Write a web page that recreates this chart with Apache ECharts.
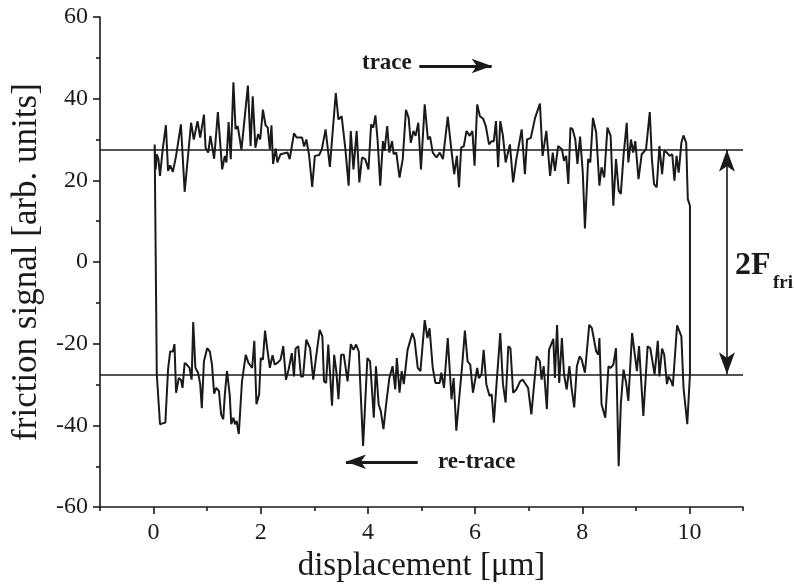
<!DOCTYPE html>
<html>
<head>
<meta charset="utf-8">
<script src="https://cdn.jsdelivr.net/npm/echarts@6/dist/echarts.min.js"></script>
<style>
  html, body { margin: 0; padding: 0; background: #fff; }
  #chart { width: 794px; height: 588px; }
</style>
</head>
<body>
<div id="chart"></div>
<script>
// Friction loop: forward scan (trace) and backward scan (re-trace)
const traceX = [0.02, 0.04, 0.06, 0.09, 0.12, 0.17, 0.23, 0.27, 0.31, 0.36, 0.42, 0.51, 0.58, 0.70, 0.75, 0.82, 0.87, 0.94, 0.97, 1.02,
  1.06, 1.09, 1.13, 1.20, 1.28, 1.33, 1.36, 1.40, 1.44, 1.49, 1.53, 1.57, 1.64, 1.76, 1.81, 1.85, 1.90, 1.95, 1.99, 2.04,
  2.09, 2.13, 2.17, 2.20, 2.23, 2.28, 2.31, 2.37, 2.50, 2.54, 2.62, 2.67, 2.77, 2.81, 2.85, 2.90, 2.96, 3.01, 3.09, 3.14,
  3.21, 3.29, 3.40, 3.45, 3.51, 3.58, 3.64, 3.68, 3.73, 3.79, 3.84, 3.89, 3.95, 4.01, 4.06, 4.10, 4.14, 4.18, 4.23, 4.28,
  4.31, 4.36, 4.40, 4.45, 4.48, 4.53, 4.59, 4.65, 4.71, 4.76, 4.80, 4.85, 4.89, 4.94, 4.99, 5.06, 5.12, 5.16, 5.21, 5.28,
  5.34, 5.40, 5.49, 5.56, 5.61, 5.66, 5.70, 5.74, 5.79, 5.84, 5.90, 5.95, 5.99, 6.04, 6.09, 6.15, 6.20, 6.26, 6.31, 6.35,
  6.39, 6.43, 6.47, 6.52, 6.57, 6.65, 6.71, 6.77, 6.87, 6.93, 6.97, 7.04, 7.12, 7.21, 7.26, 7.33, 7.40, 7.45, 7.49, 7.55,
  7.62, 7.66, 7.70, 7.74, 7.78, 7.82, 7.87, 7.91, 7.96, 8.01, 8.05, 8.11, 8.15, 8.20, 8.26, 8.32, 8.36, 8.41, 8.47, 8.53,
  8.58, 8.63, 8.68, 8.72, 8.77, 8.83, 8.86, 8.91, 8.95, 8.99, 9.05, 9.11, 9.19, 9.26, 9.30, 9.34, 9.39, 9.44, 9.49, 9.53,
  9.58, 9.63, 9.68, 9.72, 9.76, 9.80, 9.85, 9.89, 9.94, 9.97, 10.01];
const traceY = [28.8, 22.7, 26.4, 25.2, 21.1, 27.6, 33.5, 22.3, 23.7, 22.1, 26.0, 33.7, 17.2, 34.1, 30.0, 34.5, 30.5, 36.1, 28.0, 26.8,
  30.9, 30.5, 25.3, 36.7, 22.7, 26.0, 24.4, 34.3, 25.2, 44.0, 32.5, 33.3, 27.5, 43.2, 28.4, 40.6, 28.0, 31.3, 30.0, 37.3,
  33.5, 32.9, 27.6, 33.5, 24.0, 27.8, 24.4, 26.4, 26.8, 25.2, 31.5, 30.5, 30.5, 28.3, 30.0, 26.4, 18.4, 26.0, 26.2, 27.6,
  32.5, 23.3, 41.4, 34.9, 35.7, 27.6, 18.7, 32.1, 22.7, 32.1, 19.5, 25.6, 25.2, 22.7, 33.7, 32.9, 35.9, 30.0, 18.7, 29.6,
  27.2, 33.3, 26.8, 29.6, 26.4, 26.8, 20.7, 25.2, 37.3, 35.3, 29.2, 32.1, 30.9, 34.1, 22.7, 38.6, 30.0, 30.7, 26.8, 25.6,
  26.8, 25.2, 35.6, 27.2, 21.5, 26.0, 18.3, 28.0, 28.4, 32.1, 30.9, 32.1, 23.6, 38.6, 35.7, 35.1, 33.3, 28.8, 29.6, 29.6,
  34.5, 23.2, 34.5, 30.9, 24.4, 28.8, 19.5, 25.2, 32.5, 21.5, 30.0, 30.4, 35.3, 38.8, 26.0, 32.1, 21.1, 26.8, 22.3, 28.4,
  27.6, 24.8, 26.0, 19.1, 32.9, 32.5, 30.0, 24.0, 30.7, 21.9, 8.2, 25.2, 24.4, 35.3, 31.7, 18.7, 23.2, 20.7, 32.9, 30.9,
  13.8, 25.2, 17.5, 16.7, 26.0, 34.1, 24.4, 30.0, 26.8, 29.6, 20.3, 26.4, 27.6, 36.7, 25.2, 19.1, 18.3, 28.4, 21.5, 27.2,
  26.8, 26.0, 26.4, 19.9, 26.0, 21.9, 29.2, 31.0, 29.2, 15.4, 13.8];

// re-trace values listed with increasing displacement; the scan runs from right to left
const retraceX = [0.03, 0.06, 0.12, 0.17, 0.22, 0.27, 0.31, 0.36, 0.39, 0.42, 0.47, 0.51, 0.54, 0.58, 0.62, 0.67, 0.71, 0.74, 0.78, 0.83,
  0.87, 0.90, 0.94, 1.00, 1.05, 1.09, 1.13, 1.17, 1.22, 1.26, 1.30, 1.33, 1.37, 1.42, 1.45, 1.49, 1.52, 1.55, 1.59, 1.65,
  1.72, 1.77, 1.81, 1.84, 1.88, 1.92, 1.97, 2.00, 2.04, 2.08, 2.12, 2.17, 2.22, 2.26, 2.31, 2.37, 2.42, 2.47, 2.52, 2.58,
  2.62, 2.65, 2.70, 2.75, 2.79, 2.85, 2.92, 2.98, 3.03, 3.10, 3.15, 3.18, 3.22, 3.26, 3.33, 3.37, 3.41, 3.45, 3.50, 3.55,
  3.59, 3.62, 3.68, 3.73, 3.78, 3.83, 3.91, 3.99, 4.04, 4.11, 4.15, 4.20, 4.24, 4.29, 4.34, 4.40, 4.46, 4.51, 4.54, 4.59,
  4.63, 4.67, 4.74, 4.83, 4.87, 4.93, 4.98, 5.06, 5.11, 5.15, 5.21, 5.26, 5.34, 5.37, 5.42, 5.49, 5.56, 5.60, 5.65, 5.71,
  5.76, 5.81, 5.86, 5.91, 5.96, 6.04, 6.07, 6.12, 6.16, 6.21, 6.27, 6.31, 6.35, 6.40, 6.47, 6.52, 6.57, 6.62, 6.66, 6.71,
  6.77, 6.84, 6.89, 6.93, 6.99, 7.05, 7.15, 7.21, 7.24, 7.28, 7.34, 7.38, 7.46, 7.49, 7.53, 7.57, 7.62, 7.66, 7.71, 7.76,
  7.80, 7.85, 7.90, 7.95, 7.99, 8.05, 8.13, 8.18, 8.26, 8.30, 8.32, 8.36, 8.43, 8.49, 8.53, 8.58, 8.63, 8.68, 8.72, 8.77,
  8.82, 8.86, 8.93, 9.02, 9.06, 9.14, 9.22, 9.27, 9.35, 9.41, 9.44, 9.49, 9.53, 9.58, 9.61, 9.66, 9.69, 9.77, 9.85, 9.89,
  9.96, 10.01];
const retraceY = [-27.1, -27.5, -39.7, -39.5, -39.3, -26.3, -21.9, -21.9, -20.1, -32.0, -28.4, -28.8, -30.8, -24.7, -25.1, -25.9, -28.8, -14.7, -25.9, -27.1,
  -29.9, -35.8, -24.3, -21.1, -21.9, -25.1, -32.2, -30.8, -31.6, -37.3, -38.5, -32.4, -26.7, -32.4, -39.7, -38.1, -39.7, -38.9, -42.1, -29.2,
  -22.7, -24.7, -26.3, -25.9, -19.3, -34.8, -32.4, -23.5, -23.9, -16.8, -21.1, -25.9, -22.8, -25.1, -24.7, -23.9, -20.6, -28.8, -26.3, -22.3,
  -28.0, -21.2, -20.6, -28.0, -28.0, -19.0, -21.1, -28.8, -23.5, -16.6, -18.2, -29.2, -29.6, -20.2, -35.2, -22.7, -26.7, -33.6, -22.7, -22.7,
  -28.8, -29.2, -20.1, -21.5, -20.2, -21.9, -45.0, -23.5, -24.3, -38.1, -25.5, -34.8, -36.5, -40.9, -34.8, -28.4, -25.5, -31.2, -23.5, -32.0,
  -26.7, -29.9, -21.5, -17.4, -19.0, -25.9, -26.7, -14.2, -18.6, -16.2, -25.9, -29.6, -29.6, -27.1, -30.8, -18.6, -33.6, -28.4, -41.3, -32.4,
  -25.1, -16.8, -24.3, -25.1, -32.0, -25.9, -28.4, -27.5, -21.5, -29.9, -32.8, -32.4, -39.3, -29.9, -17.4, -29.9, -34.4, -20.6, -21.1, -32.0,
  -31.2, -29.2, -28.8, -29.6, -30.8, -37.3, -23.1, -24.3, -28.8, -25.5, -36.0, -21.5, -18.8, -28.4, -15.4, -29.6, -18.6, -27.5, -31.2, -25.5,
  -30.8, -35.6, -25.5, -23.1, -23.9, -27.1, -15.4, -16.2, -21.9, -22.7, -18.6, -34.8, -38.1, -25.5, -25.9, -25.1, -21.1, -50.0, -34.8, -26.3,
  -29.6, -34.0, -17.4, -26.7, -20.6, -37.7, -20.6, -21.1, -27.5, -19.3, -28.0, -21.2, -22.7, -29.9, -28.0, -29.2, -30.4, -15.5, -18.2, -30.8,
  -39.7, -27.5];

// mean friction level (half the loop width) and axis ticks
const frictionLevel = 27.5;
const arrowX = 10.7;
const majorX = [0, 2, 4, 6, 8, 10];
const minorX = [-1, 1, 3, 5, 7, 9, 11];
const traceArrow = [[4.96, 48.0], [6.31, 48.0]];
const retraceArrow = [[4.93, -48.9], [3.59, -48.9]];

// closed loop: trace left->right, drop at the turning point, re-trace right->left, jump back
const loop = [];
for (let i = 0; i < traceX.length; i++) loop.push([traceX[i], traceY[i]]);
for (let i = retraceX.length - 1; i >= 0; i--) loop.push([retraceX[i], retraceY[i]]);
loop.push([traceX[0], traceY[0]]);

const ink = '#1a1a1a';
const serif = '"Liberation Serif", "Times New Roman", serif';

const chart = echarts.init(document.getElementById('chart'), null, { renderer: 'canvas' });
chart.setOption({
  animation: false,
  backgroundColor: '#ffffff',
  grid: { left: 100, right: 51, top: 17, bottom: 78, containLabel: false },
  xAxis: [{
    type: 'value', min: -1, max: 11,
    name: 'displacement [\u03bcm]', nameLocation: 'middle', nameGap: 37,
    nameTextStyle: { fontFamily: serif, fontSize: 33, color: ink },
    axisLine: { show: true, onZero: false, lineStyle: { color: ink, width: 1.6 } },
    axisTick: { show: true, customValues: majorX, length: 7, lineStyle: { color: ink, width: 1.6 } },
    axisLabel: { customValues: majorX, fontFamily: serif, fontSize: 24, color: ink, margin: 14 },
    splitLine: { show: false }
  }, {
    type: 'value', min: -1, max: 11, position: 'bottom',
    axisLine: { show: false, onZero: false },
    axisTick: { show: true, customValues: minorX, length: 4, lineStyle: { color: ink, width: 1.6 } },
    axisLabel: { show: false },
    splitLine: { show: false }
  }],
  yAxis: {
    type: 'value', min: -60, max: 60, interval: 20,
    name: 'friction signal [arb. units]', nameLocation: 'middle', nameGap: 56,
    nameTextStyle: { fontFamily: serif, fontSize: 35, color: ink },
    axisLine: { show: true, onZero: false, lineStyle: { color: ink, width: 1.6 } },
    axisTick: { show: true, length: 7, lineStyle: { color: ink, width: 1.6 } },
    minorTick: { show: true, splitNumber: 2, length: 4, lineStyle: { color: ink, width: 1.6 } },
    axisLabel: { fontFamily: serif, fontSize: 24, color: ink, margin: 12 },
    splitLine: { show: false }
  },
  series: [{
    type: 'line',
    xAxisIndex: 0,
    data: loop,
    showSymbol: false,
    symbol: 'none',
    lineStyle: { color: ink, width: 2 },
    z: 3,
    markLine: {
      silent: true,
      symbol: ['none', 'none'],
      label: { show: false },
      lineStyle: { color: ink, type: 'solid', width: 1.6 },
      data: [
        { yAxis: frictionLevel },
        { yAxis: -frictionLevel },
        [
          { coord: [arrowX, frictionLevel], symbol: 'arrow', symbolSize: [12, 22] },
          { coord: [arrowX, -frictionLevel], symbol: 'arrow', symbolSize: [12, 22] }
        ],
        [
          { coord: traceArrow[0], symbol: 'none', lineStyle: { width: 3.2 } },
          { coord: traceArrow[1], symbol: 'arrow', symbolSize: [11, 20] }
        ],
        [
          { coord: retraceArrow[0], symbol: 'none', lineStyle: { width: 3.2 } },
          { coord: retraceArrow[1], symbol: 'arrow', symbolSize: [11, 20] }
        ]
      ]
    }
  }],
  graphic: [
    { type: 'text', left: 362, top: 52, style: { text: 'trace', font: 'bold 23px ' + serif, fill: ink } },
    { type: 'text', left: 438, top: 451, style: { text: 're-trace', font: 'bold 23px ' + serif, fill: ink } },
    { type: 'text', left: 735, top: 250, style: { text: '2F', font: 'bold 32px ' + serif, fill: ink } },
    { type: 'text', left: 773, top: 274, style: { text: 'fri', font: 'bold 19px ' + serif, fill: ink } }
  ]
});
</script>
</body>
</html>
